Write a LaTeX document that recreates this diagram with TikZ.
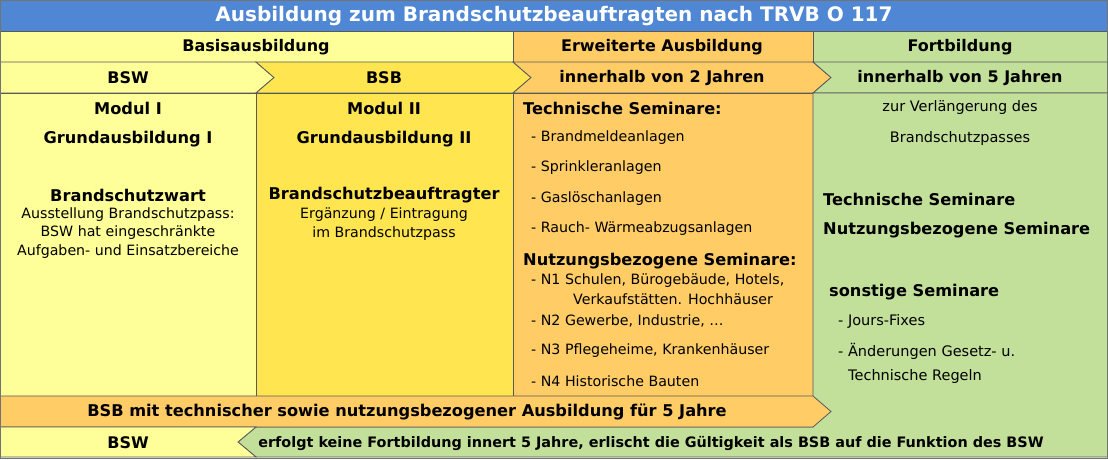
\documentclass[tikz,border=0pt]{standalone}
\usepackage{fontspec}
\setmainfont{DejaVu Sans}
\definecolor{titleblue}{HTML}{4F87D4}
\definecolor{paleyellow}{HTML}{FFFF99}
\definecolor{bsbyellow}{HTML}{FFE650}
\definecolor{erwOrange}{HTML}{FFCC66}
\definecolor{fortGreen}{HTML}{C3E09B}
\tikzset{
  cell/.style={draw=black!65, line width=0.8pt, line join=miter},
  titletext/.style={font=\fontsize{20}{24}\selectfont\bfseries, text=white},
  headtext/.style={font=\fontsize{16}{19}\selectfont\bfseries},
  bigtext/.style={font=\fontsize{16.2}{19}\selectfont\bfseries},
  plaintext/.style={font=\fontsize{14.2}{18.5}\selectfont},
  smalltext/.style={font=\fontsize{14.5}{17}\selectfont},
  foottext/.style={font=\fontsize{14.4}{17}\selectfont\bfseries},
}
\begin{document}
\begin{tikzpicture}[x=1pt,y=-1pt,inner sep=0pt]
    		\newcommand{\cbsb}{256}
    		\newcommand{\cerw}{513}
    		\newcommand{\cfort}{813}
    		\newcommand{\cend}{1108}
    		\newcommand{\tipw}{18}
    		\useasboundingbox (0,0) rectangle (1108,459);

    		% title
    		\filldraw[cell, fill=titleblue] (0,0) rectangle (\cend,31);
    		\node[titletext] (title) at (554,16) {Ausbildung zum Brandschutzbeauftragten nach TRVB O 117};

    		% header row
    		\filldraw[cell, fill=paleyellow] (0,31) rectangle (\cerw,62);
    		\filldraw[cell, fill=erwOrange] (\cerw,31) rectangle (\cfort,62);
    		\filldraw[cell, fill=fortGreen] (\cfort,31) rectangle (\cend,62);
    		\node[headtext] (basis) at (256,47) {Basisausbildung};
    		\node[headtext] (erw) at (662,47) {Erweiterte Ausbildung};
    		\node[headtext] (fort) at (960,47) {Fortbildung};

    		% arrow row
    		\filldraw[cell, fill=paleyellow] (0,62) -- (\cbsb,62) -- (\cbsb+\tipw,77.5) -- (\cbsb,93) -- (0,93) -- cycle;
    		\filldraw[cell, fill=bsbyellow] (\cbsb,62) -- (\cerw,62) -- (\cerw+\tipw,77.5) -- (\cerw,93) -- (\cbsb,93) -- (\cbsb+\tipw,77.5) -- cycle;
    		\filldraw[cell, fill=erwOrange] (\cerw,62) -- (\cfort,62) -- (\cfort+\tipw,77.5) -- (\cfort,93) -- (\cerw,93) -- (\cerw+\tipw,77.5) -- cycle;
    		\filldraw[cell, fill=fortGreen] (\cfort,62) -- (\cend,62) -- (\cend,93) -- (\cfort,93) -- (\cfort+\tipw,77.5) -- cycle;
    		\node[headtext] (bsw) at (128,78) {BSW};
    		\node[headtext] (bsb) at (384,78) {BSB};
    		\node[headtext] (zwei) at (662,78) {innerhalb von 2 Jahren};
    		\node[headtext] (fuenf) at (960,78) {innerhalb von 5 Jahren};

    		% columns
    		\filldraw[cell, fill=paleyellow] (0,93) rectangle (\cbsb,396);
    		\filldraw[cell, fill=bsbyellow] (\cbsb,93) rectangle (\cerw,396);
    		\filldraw[cell, fill=erwOrange] (\cerw,93) rectangle (\cfort,396);
    		\filldraw[cell, fill=fortGreen] (\cfort,93) -- (\cend,93) -- (\cend,457) -- (\cbsb,457) -- (\cbsb-\tipw,442) -- (\cbsb,427) -- (\cfort,427) -- cycle;

    		% bottom rows
    		\filldraw[cell, fill=erwOrange] (0,396) -- (\cfort,396) -- (\cfort+\tipw,411.5) -- (\cfort,427) -- (0,427) -- cycle;
    		\filldraw[cell, fill=paleyellow] (0,427) -- (\cbsb,427) -- (\cbsb-\tipw,442) -- (\cbsb,457) -- (0,457) -- cycle;
    		\node[bigtext] (bsbfuenf) at (407,412) {BSB mit technischer sowie nutzungsbezogener Ausbildung für 5 Jahre};
    		\node[headtext] (bswend) at (128,443) {BSW};
    		\node[foottext] (erlischt) at (651,443) {erfolgt keine Fortbildung innert 5 Jahre, erlischt die Gültigkeit als BSB auf die Funktion des BSW};

    		% Modul I
    		\node[bigtext] (modA) at (128,108) {Modul I};
    		\node[bigtext] (grundA) at (128,139) {Grundausbildung I};
    		\node[bigtext] (wart) at (128,195) {Brandschutzwart};
    		\node[plaintext, align=center] (pass) at (128,233) {Ausstellung Brandschutzpass:\\BSW hat eingeschränkte\\Aufgaben- und Einsatzbereiche};

    		% Modul II
    		\node[bigtext] (modB) at (384,108) {Modul II};
    		\node[bigtext] (grundB) at (384,139) {Grundausbildung II};
    		\node[bigtext] (beauf) at (384,195) {Brandschutzbeauftragter};
    		\node[plaintext, align=center] (eintrag) at (384,224) {Ergänzung / Eintragung\\im Brandschutzpass};

    		% Erweiterte Ausbildung
    		\node[bigtext, anchor=west] (techA) at (523,108) {Technische Seminare:};
    		\node[plaintext, anchor=west] (bma) at (531,138) {- Brandmeldeanlagen};
    		\node[plaintext, anchor=west] (spr) at (531,168) {- Sprinkleranlagen};
    		\node[plaintext, anchor=west] (gas) at (531,199) {- Gaslöschanlagen};
    		\node[plaintext, anchor=west] (rwa) at (531,229) {- Rauch- Wärmeabzugsanlagen};
    		\node[bigtext, anchor=west] (nutzA) at (523,261) {Nutzungsbezogene Seminare:};
    		\node[plaintext, anchor=west] (nA) at (531,281) {- N1 Schulen, Bürogebäude, Hotels,};
    		\node[plaintext, anchor=west] (nAb) at (573,299) {Verkaufstätten. Hochhäuser};
    		\node[plaintext, anchor=west] (nB) at (531,321) {- N2 Gewerbe, Industrie, …};
    		\node[plaintext, anchor=west] (nC) at (531,351) {- N3 Pflegeheime, Krankenhäuser};
    		\node[plaintext, anchor=west] (nD) at (531,381) {- N4 Historische Bauten};

    		% Fortbildung
    		\node[smalltext] (verl) at (960,107) {zur Verlängerung des};
    		\node[smalltext] (passes) at (960,138) {Brandschutzpasses};
    		\node[bigtext, anchor=west] (techB) at (823,199) {Technische Seminare};
    		\node[bigtext, anchor=west] (nutzB) at (823,230) {Nutzungsbezogene Seminare};
    		\node[bigtext, anchor=west] (sonst) at (829,292) {sonstige Seminare};
    		\node[smalltext, anchor=west] (jours) at (838,321) {- Jours-Fixes};
    		\node[smalltext, anchor=west] (aend) at (838,351) {- Änderungen Gesetz- u.};
    		\node[smalltext, anchor=west] (regeln) at (848,376) {Technische Regeln};

    		% frame
    		\draw[black!55, line width=1pt] (0.5,0.5) rectangle (1107.5,458.5);
\end{tikzpicture}
\end{document}
